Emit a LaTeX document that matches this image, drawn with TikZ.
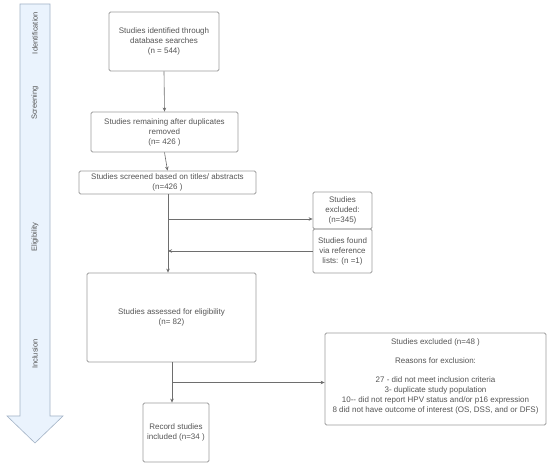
\documentclass[tikz,border=0pt]{standalone}
\usepackage{fontspec}
\setmainfont{Liberation Sans}
\usetikzlibrary{arrows.meta}
\definecolor{txtc}{HTML}{555555}
\definecolor{boxc}{HTML}{9C9C9C}
\definecolor{linec}{HTML}{6E6E6E}
\definecolor{bandfill}{HTML}{EAF3FD}
\definecolor{bandline}{HTML}{A3B3C6}
\tikzset{
  box/.style={draw=boxc, line width=0.8pt, rounded corners=1.5pt, inner sep=0pt, align=center, text=txtc, font=\fontsize{8}{10}\selectfont},
  txt/.style={inner sep=0pt, align=center, text=txtc, font=\fontsize{8}{9.7}\selectfont},
  conn/.style={draw=linec, line width=0.6pt, -{Stealth[length=4pt,width=3.5pt]}},
  plain/.style={draw=linec, line width=0.6pt},
  stage/.style={rotate=90, text=txtc, font=\fontsize{7.5}{9}\selectfont, inner sep=0pt}
}
\begin{document}
\begin{tikzpicture}[x=1pt,y=-1pt]
\useasboundingbox (0,0) rectangle (550,465);
\fill[white] (0,0) rectangle (550,465);
% stage band
\draw[bandline, fill=bandfill, line width=0.6pt] (20,4) -- (50,4) -- (50,416) -- (63,416) -- (35,443) -- (7,416) -- (20,416) -- cycle;
\node[stage] (s1) at (35,33) {Identification};
\node[stage] (s2) at (35,103) {Screening};
\node[stage] (s3) at (35,237) {Eligibility};
\node[stage] (s4) at (35,354) {Inclusion};
% boxes
\node[box, minimum width=110, minimum height=59] (b1) at (164,41.5) {Studies identified through\\database searches\\(n = 544)};
\node[box, minimum width=147, minimum height=40] (b2) at (164.5,132) {Studies remaining after duplicates\\removed\\(n= 426 )};
\node[box, minimum width=177, minimum height=23] (b3) at (167.5,182.5) {Studies screened based on titles/ abstracts\\(n=426 )};
\node[box, minimum width=59, minimum height=37] (e1) at (342.5,210.5) {Studies\\excluded:\\(n=345)};
\node[box, minimum width=59, minimum height=44] (f1) at (342.5,251) {Studies found\\via reference\\lists: (n =1)};
\node[box, minimum width=169, minimum height=89] (a1) at (171.5,317.5) {Studies assessed for eligibility\\(n= 82)};
\node[box, minimum width=66, minimum height=59] (r1) at (176,432.5) {Record studies\\included (n=34 )};
\node[box, minimum width=221, minimum height=92] (e2) at (435.5,379) {};
\node[txt] (e2t) at (435.5,376) {Studies excluded (n=48 )\\[9.7pt]Reasons for exclusion:\\[9.7pt]27 - did not meet inclusion criteria\\3- duplicate study population\\10-{}- did not report HPV status and/or p16 expression\\8 did not have outcome of interest (OS, DSS, and or DFS)};
% connectors
\draw[conn] (b1.south) -- (b2.north);
\draw[conn] (b2.south) -- (b3.north);
\coordinate (j1) at (168,219);
\coordinate (j2) at (168,251);
\coordinate (j3) at (172,382.5);
\draw[conn] (b3.south -| j1) -- (a1.north -| j1);
\draw[conn] (j1) -- (j1 -| e1.west);
\draw[conn] (f1.west |- j2) -- (j2);
\draw[conn] (a1.south -| j3) -- (r1.north -| j3);
\draw[conn] (j3) -- (j3 -| e2.west);
\end{tikzpicture}
\end{document}
